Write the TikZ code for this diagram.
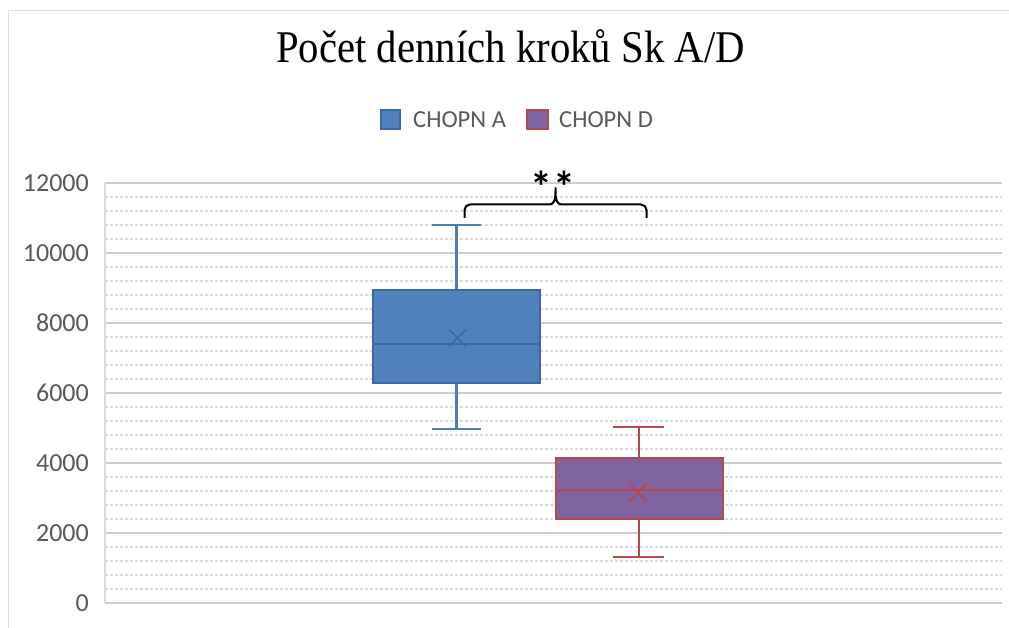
\documentclass[tikz,border=0pt]{standalone}
\usepackage{fontspec}
\setmainfont{Liberation Serif}
\newfontfamily\calib{Carlito}
\definecolor{bluefill}{HTML}{4F81BD}
\definecolor{blueline}{HTML}{3C6A9F}
\definecolor{bluewhisk}{HTML}{4A7CB8}
\definecolor{purpfill}{HTML}{8064A2}
\definecolor{redline}{HTML}{B5484A}
\definecolor{axisgray}{RGB}{89,89,89}
\definecolor{gridmaj}{RGB}{205,205,205}
\definecolor{gridmin}{RGB}{218,218,218}
\definecolor{chartborder}{RGB}{222,222,222}
\tikzset{
  axlab/.style={font=\calib\fontsize{26}{26}\selectfont, text=axisgray, anchor=east, inner sep=0pt},
  leglab/.style={font=\calib\fontsize{24.5}{24.5}\selectfont, text=axisgray, anchor=base west, inner sep=0pt},
  majgrid/.style={draw=gridmaj, line width=1.4pt},
  mingrid/.style={draw=gridmin, line width=1.2pt, dash pattern=on 3pt off 2pt},
  boxa/.style={fill=bluefill, draw=blueline, line width=2pt},
  boxd/.style={fill=purpfill, draw=redline, line width=2pt},
  whiska/.style={draw=bluewhisk, line width=2.2pt},
  whiskd/.style={draw=redline, line width=2.2pt},
  meana/.style={draw=blueline, line width=1.6pt},
  meand/.style={draw=redline, line width=1.8pt},
  bracestyle/.style={draw=black, line width=2pt, line join=round},
  star/.style={font=\calib\bfseries\fontsize{44}{44}\selectfont, anchor=base, inner sep=0pt}
}
\begin{document}
\begin{tikzpicture}[x=1pt,y=-1pt]
\useasboundingbox (0,0) rectangle (1009,628);
\fill[white] (0,0) rectangle (1009,628);
% chart border
\draw[chartborder, line width=1.5pt] (8.5,640) -- (8.5,10.5) -- (1020,10.5);
% title
\node[anchor=base, inner sep=0pt, font=\fontsize{42}{42}\selectfont] (title) at (510.5,63) {\scalebox{0.97}[1.08]{Počet denních kroků Sk A/D}};
% legend
\fill[bluefill, draw=blueline, line width=1.2pt] (381,110) rectangle (400,129);
\node[leglab] (lega) at (413,128) {CHOPN A};
\fill[purpfill, draw=redline, line width=1.2pt] (527,110) rectangle (548,129);
\node[leglab] (legd) at (559,128) {CHOPN D};
% grid
\foreach \i in {1,...,29}{
  \pgfmathsetmacro\yy{603-\i*14}
  \draw[mingrid] (105,\yy) -- (1002,\yy);
}
\foreach \i in {1,...,6}{
  \pgfmathsetmacro\yy{603-\i*70}
  \draw[majgrid] (105,\yy) -- (1002,\yy);
}
\draw[draw=gridmaj, line width=1.6pt] (105,603) -- (1002,603);
\draw[draw=gridmin, line width=1.2pt] (105,183) -- (105,603);
% axis labels
\node[axlab] (l0) at (89,603) {0};
\node[axlab] (l2) at (89,533) {2000};
\node[axlab] (l4) at (89,463) {4000};
\node[axlab] (l6) at (89,393) {6000};
\node[axlab] (l8) at (89,323) {8000};
\node[axlab] (l10) at (89,253) {10000};
\node[axlab] (l12) at (89,183) {12000};
% box A
\draw[whiska] (456.5,290) -- (456.5,225);
\draw[whiska] (432,225) -- (481,225);
\draw[whiska] (456.5,383) -- (456.5,429);
\draw[whiska] (432,429) -- (481,429);
\draw[boxa] (373,290) rectangle (540,383);
\draw[draw=blueline, line width=2pt] (373,344) -- (540,344);
\draw[meana] (449,329.5) -- (466,346.5) (449,346.5) -- (466,329.5);
% box D
\draw[whiskd] (639,458) -- (639,427);
\draw[whiskd] (613,427) -- (664,427);
\draw[whiskd] (639,519) -- (639,557);
\draw[whiskd] (613,557) -- (664,557);
\draw[boxd] (556,458) rectangle (723,519);
\draw[draw=redline, line width=2pt] (556,490) -- (723,490);
\draw[meand] (629,483.5) -- (647,501.5) (629,501.5) -- (647,483.5);
% significance brace
\coordinate (bl) at (464.5,218);
\coordinate (br) at (646.5,218);
\coordinate (bt) at (555.5,188);
\draw[bracestyle] (bl) -- (464.5,210) to[out=90,in=180] (470,204.5) -- (549,204.5)
  to[out=0,in=-90] (bt) to[out=-90,in=180] (562,204.5) -- (641,204.5) to[out=0,in=90] (646.5,210) -- (br);
\node[star] (s1) at (541.5,203) {*};
\node[star] (s2) at (564.5,203) {*};
\end{tikzpicture}
\end{document}
